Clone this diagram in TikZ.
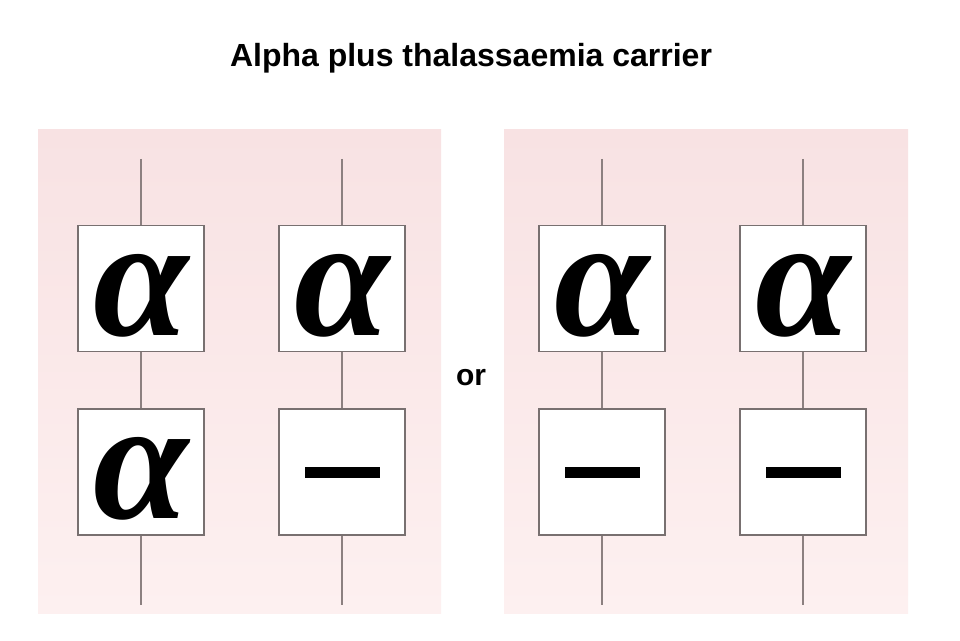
\documentclass[tikz,border=0pt]{standalone}
\usepackage{fontspec}
\setmainfont{Liberation Sans}
\newfontfamily\alphafont{Liberation Serif}
\definecolor{pinktop}{RGB}{248,226,227}
\definecolor{pinkbot}{RGB}{253,240,240}
\definecolor{boxgray}{RGB}{120,112,112}
\definecolor{linegray}{RGB}{140,128,128}
\tikzset{
  panel/.style={shading=axis, top color=pinktop, bottom color=pinkbot, draw=none},
  gene/.style={draw=boxgray, line width=1.8pt, fill=white, minimum width=126pt, minimum height=126pt, inner sep=0pt},
  chrom/.style={draw=linegray, line width=1.8pt},
}
\newcommand{\alphasym}{\raisebox{-7pt}[\height][\depth]{\alphafont\bfseries\itshape\fontsize{172}{172}\selectfont α}}
\newcommand{\deletion}{\rule{75pt}{11pt}}
\begin{document}
\begin{tikzpicture}[x=1pt,y=1pt]
  \useasboundingbox (0,0) rectangle (960,640);
  \fill[white] (0,0) rectangle (960,640);
  % panels
  \shade[panel] (38,27) rectangle (441,510);
  \shade[panel] (504,27) rectangle (908,510);
  % title
  \node[font=\bfseries\fontsize{32}{38}\selectfont] (title) at (471,582) {Alpha plus thalassaemia carrier};
  \node[font=\bfseries\fontsize{30}{36}\selectfont] (or) at (471,262) {or};
  % end points
  \coordinate (t1) at (141,481); \coordinate (e1) at (141,35);
  \coordinate (t2) at (342,481); \coordinate (e2) at (342,35);
  \coordinate (t3) at (602,481); \coordinate (e3) at (602,35);
  \coordinate (t4) at (803,481); \coordinate (e4) at (803,35);
  % genes
  \node[gene] (a1) at (141,351.5) {\alphasym};
  \node[gene] (b1) at (141,168) {\alphasym};
  \node[gene] (a2) at (342,351.5) {\alphasym};
  \node[gene] (b2) at (342,168) {\deletion};
  \node[gene] (a3) at (602,351.5) {\alphasym};
  \node[gene] (b3) at (602,168) {\deletion};
  \node[gene] (a4) at (803,351.5) {\alphasym};
  \node[gene] (b4) at (803,168) {\deletion};
  % chromosome lines
  \foreach \i in {1,2,3,4}{
    \draw[chrom] (t\i) -- (a\i.north);
    \draw[chrom] (a\i.south) -- (b\i.north);
    \draw[chrom] (b\i.south) -- (e\i);
  }
\end{tikzpicture}
\end{document}
